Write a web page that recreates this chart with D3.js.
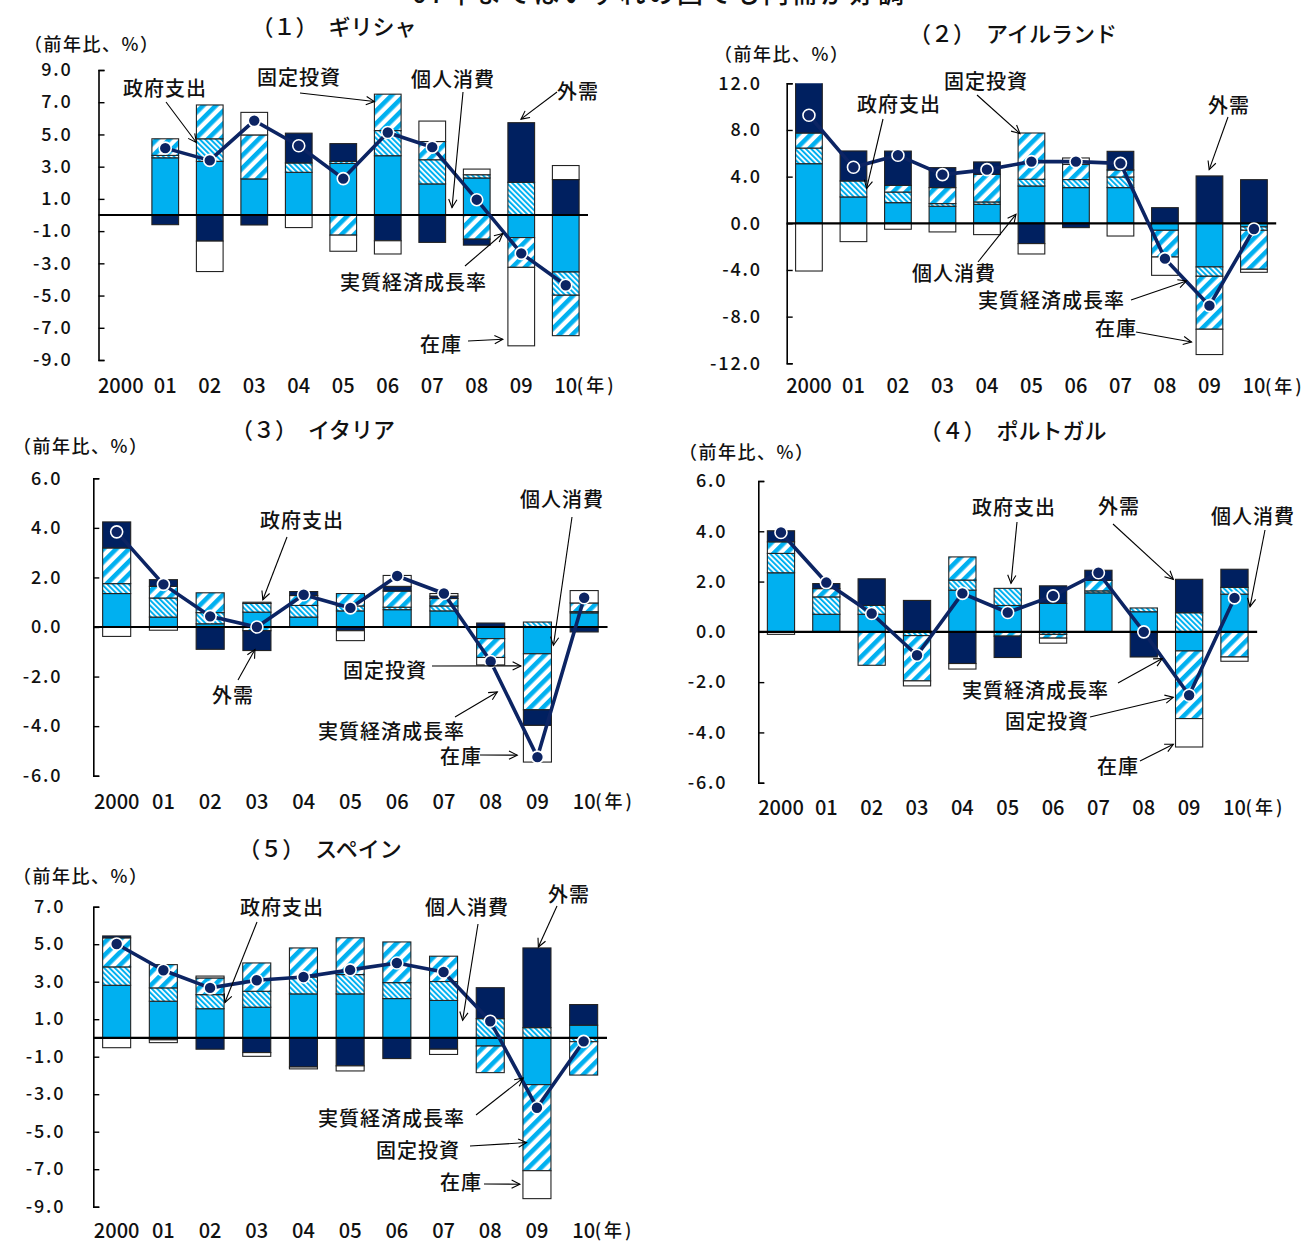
<!DOCTYPE html>
<html>
<head>
<meta charset="utf-8">
<script src="https://cdn.jsdelivr.net/npm/d3@7"></script>
<style>
  body { margin: 0; background: #fff; }
  svg { display: block; font-family: "Noto Sans CJK JP", "Noto Sans", sans-serif; font-weight: 500; }
</style>
</head>
<body>
<svg id="chart" width="1312" height="1243"></svg>
<script>
// 年
const years = ["2000", "01", "02", "03", "04", "05", "06", "07", "08", "09", "10"];
const seriesNames = ["個人消費", "政府支出", "固定投資", "外需", "在庫"];

// (1) ギリシャ
const grcPersonal = [null, 3.55, 3.33, 2.24, 2.65, 3.2, 3.68, 1.93, 2.3, -1.4, -3.54];
const grcGovt     = [null, 0.15, 1.4, 0, 0.58, 0.13, 1.56, 1.5, 0.2, 2.03, -1.44];
const grcInvest   = [null, 1.03, 2.1, 2.73, 0, -1.25, 2.26, 1.13, -1.5, -1.85, -2.51];
const grcExternal = [null, -0.6, -1.62, -0.62, 1.85, 1.1, -1.6, -1.7, -0.37, 3.7, 2.2];
const grcStock    = [null, 0, -1.89, 1.4, -0.78, -1.0, -0.82, 1.27, 0.35, -4.87, 0.87];
const grcGdp      = [null, 4.15, 3.39, 5.86, 4.3, 2.26, 5.12, 4.21, 0.95, -2.38, -4.36];
const grcTicks    = [9, 7, 5, 3, 1, -1, -3, -5, -7, -9];

// (2) アイルランド
const irlPersonal = [5.11, 2.26, 1.77, 1.46, 1.63, 3.2, 3.06, 3.06, -0.6, -3.74, -0.31];
const irlGovt     = [1.34, 1.37, 0.91, 0.23, 0.2, 0.57, 0.69, 0.91, 0, -0.8, -0.29];
const irlInvest   = [1.29, 0, 0.57, 1.37, 2.37, 3.97, 1.3, 0.6, -2.29, -4.54, -3.34];
const irlExternal = [5.6, 2.57, 2.94, 1.71, 1.06, -1.74, -0.37, 1.6, 1.34, 4.06, 3.74];
const irlStock    = [-4.09, -1.57, -0.51, -0.74, -0.97, -0.89, 0.55, -1.09, -1.57, -2.17, -0.26];
const irlGdp      = [9.26, 4.8, 5.83, 4.17, 4.6, 5.29, 5.29, 5.14, -3.03, -7.06, -0.49];
const irlTicks    = [12, 8, 4, 0, -4, -8, -12];

// (3) イタリア
const itaPersonal = [1.35, 0.4, 0.13, 0.6, 0.4, 0.65, 0.7, 0.65, -0.47, -1.08, 0.57];
const itaGovt     = [0.4, 0.77, 0.45, 0.35, 0.47, 0.2, 0.1, 0.2, 0, 0.2, 0.05];
const itaInvest   = [1.44, 0.47, 0.8, -0.15, 0.4, 0.5, 0.65, 0.3, -0.76, -2.26, 0.35];
const itaExternal = [1.05, 0.27, -0.9, -0.8, 0.16, -0.15, 0.19, 0.1, 0.16, -0.63, -0.2];
const itaStock    = [-0.38, -0.13, 0, 0.05, 0, -0.4, 0.44, 0.1, -0.3, -1.48, 0.5];
const itaGdp      = [3.84, 1.72, 0.43, 0.0, 1.3, 0.77, 2.06, 1.35, -1.39, -5.25, 1.18];
const itaTicks    = [6, 4, 2, 0, -2, -4, -6];

// (4) ポルトガル
const prtPersonal = [2.35, 0.7, 0.7, 0.05, 1.66, 1.05, 1.13, 1.55, 0.8, -0.76, 1.5];
const prtGovt     = [0.77, 0.69, 0.35, -0.15, 0.4, 0.68, -0.1, 0.08, 0.15, 0.76, 0.27];
const prtInvest   = [0.46, 0.33, -1.33, -1.8, 0.92, -0.17, -0.15, 0.42, 0, -2.69, -1.0];
const prtExternal = [0.44, 0.2, 1.06, 1.2, -1.26, -0.85, 0.7, 0.4, -1.0, 1.33, 0.72];
const prtStock    = [-0.1, 0, 0, -0.2, -0.22, 0, -0.2, 0, 0, -1.13, -0.17];
const prtGdp      = [3.95, 1.96, 0.73, -0.93, 1.53, 0.77, 1.43, 2.35, 0.0, -2.52, 1.35];
const prtTicks    = [6, 4, 2, 0, -2, -4, -6];

// (5) スペイン
const espPersonal = [2.81, 1.96, 1.56, 1.64, 2.35, 2.35, 2.1, 2.0, -0.43, -2.49, 0.68];
const espGovt     = [0.98, 0.71, 0.75, 0.85, 0.9, 1.03, 0.85, 1.01, 1.03, 0.55, -0.2];
const espInvest   = [1.55, 1.24, 0.89, 1.51, 1.55, 1.96, 2.17, 1.35, -1.42, -4.59, -1.78];
const espExternal = [0.1, -0.1, -0.6, -0.78, -1.55, -1.49, -1.1, -0.6, 1.65, 4.25, 1.1];
const espStock    = [-0.52, -0.15, 0.1, -0.2, -0.1, -0.27, 0, -0.28, 0, -1.49, 0];
const espGdp      = [5.01, 3.61, 2.67, 3.08, 3.25, 3.63, 4.0, 3.52, 0.89, -3.72, -0.18];
const espTicks    = [7, 5, 3, 1, -1, -3, -5, -7, -9];

const lightBlue = "#00b0f0";
const navy = "#002060";
const lineNavy = "#0c2463";

const svg = d3.select("#chart");
const defs = svg.append("defs");

// 固定投資: 太い斜線
const pInvest = defs.append("pattern").attr("id", "pat-invest")
  .attr("patternUnits", "userSpaceOnUse").attr("width", 9).attr("height", 9)
  .attr("patternTransform", "rotate(45)");
pInvest.append("rect").attr("width", 9).attr("height", 9).attr("fill", "#fff");
pInvest.append("rect").attr("width", 4.6).attr("height", 9).attr("fill", lightBlue);

// 政府支出: 細い斜線
const pGovt = defs.append("pattern").attr("id", "pat-govt")
  .attr("patternUnits", "userSpaceOnUse").attr("width", 3.8).attr("height", 3.8)
  .attr("patternTransform", "rotate(-45)");
pGovt.append("rect").attr("width", 3.8).attr("height", 3.8).attr("fill", "#fff");
pGovt.append("rect").attr("width", 2.0).attr("height", 3.8).attr("fill", lightBlue);

defs.append("marker").attr("id", "arrow")
  .attr("markerUnits", "userSpaceOnUse").attr("viewBox", "0 0 12 12")
  .attr("markerWidth", 11).attr("markerHeight", 11).attr("refX", 10).attr("refY", 6)
  .attr("orient", "auto")
  .append("path").attr("d", "M1,1.5 L10,6 L1,10.5")
  .attr("fill", "none").attr("stroke", "#000").attr("stroke-width", 1.2);

const fills = {
  "個人消費": lightBlue,
  "政府支出": "url(#pat-govt)",
  "固定投資": "url(#pat-invest)",
  "外需": navy,
  "在庫": "#fff"
};

// 上部の見出し（切れている）
svg.append("text").attr("x", 412).attr("y", 3)
  .attr("font-size", 26).attr("textLength", 492).attr("fill", "#111")
  .text("07年まではいずれの国でも内需が好調");

const panels = [
  { title: "（１）　ギリシャ", id: "grc",
    series: [grcPersonal, grcGovt, grcInvest, grcExternal, grcStock], gdp: grcGdp, ticks: grcTicks,
    domain: [-9, 9], axisX: 98.5, yTop: 70, yBottom: 360, step: 44.5,
    titleX: 334, titleY: 27, unitX: 24, unitY: 45, tickPad: 26, yearDy: 26,
    notes: [
      { text: "政府支出", tx: 123, ty: 89, sx: 166, sy: 102, yr: "02", fx: 0, v: 4.5 },
      { text: "固定投資", tx: 257, ty: 78, sx: 300, sy: 93, yr: "06", fx: 0, v: 7.04 },
      { text: "個人消費", tx: 411, ty: 80, sx: 463, sy: 92, yr: "07", fx: 1.24, v: 0.46 },
      { text: "外需", tx: 557, ty: 92, sx: 557, sy: 92, yr: "09", fx: 0.49, v: 5.95 },
      { text: "実質経済成長率", tx: 340, ty: 283, sx: 465, sy: 266, yr: "09", fx: -0.19, v: -1.15 },
      { text: "在庫", tx: 420, ty: 345, sx: 468, sy: 341, yr: "09", fx: -0.19, v: -7.71 }
    ] },
  { title: "（２）　アイルランド", id: "irl",
    series: [irlPersonal, irlGovt, irlInvest, irlExternal, irlStock], gdp: irlGdp, ticks: irlTicks,
    domain: [-12, 12], axisX: 786.7, yTop: 83.3, yBottom: 363.3, step: 44.5,
    titleX: 1013, titleY: 34, unitX: 714, unitY: 55, tickPad: 25, yearDy: 23,
    notes: [
      { text: "固定投資", tx: 944, ty: 82, sx: 977, sy: 95, yr: "05", fx: 0.07, v: 7.69 },
      { text: "政府支出", tx: 857, ty: 105, sx: 883, sy: 119, yr: "01", fx: 0.99, v: 2.97 },
      { text: "外需", tx: 1208, ty: 106, sx: 1228, sy: 117, yr: "09", fx: 0.49, v: 4.6 },
      { text: "個人消費", tx: 912, ty: 274, sx: 978, sy: 262, yr: "05", fx: -0.08, v: 0.77 },
      { text: "実質経済成長率", tx: 978, ty: 301, sx: 1131, sy: 300, yr: "09", fx: -0.36, v: -4.94 },
      { text: "在庫", tx: 1095, ty: 329, sx: 1136, sy: 332, yr: "09", fx: -0.17, v: -10.17 }
    ] },
  { title: "（３）　イタリア", id: "ita",
    series: [itaPersonal, itaGovt, itaInvest, itaExternal, itaStock], gdp: itaGdp, ticks: itaTicks,
    domain: [-6, 6], axisX: 93.3, yTop: 478.3, yBottom: 775.7, step: 46.75,
    titleX: 313, titleY: 430, unitX: 13, unitY: 447, tickPad: 31, yearDy: 26,
    notes: [
      { text: "政府支出", tx: 260, ty: 521, sx: 287, sy: 537, yr: "03", fx: 0.71, v: 1.1 },
      { text: "外需", tx: 212, ty: 696, sx: 238, sy: 680, yr: "03", fx: 0.43, v: -0.91 },
      { text: "個人消費", tx: 520, ty: 500, sx: 572, sy: 517, yr: "09", fx: 1.07, v: -0.74 },
      { text: "固定投資", tx: 343, ty: 671, sx: 432, sy: 666, yr: "09", fx: -0.09, v: -1.57 },
      { text: "実質経済成長率", tx: 318, ty: 732, sx: 455, sy: 717, yr: "09", fx: -0.93, v: -2.62 },
      { text: "在庫", tx: 440, ty: 757, sx: 480, sy: 755, yr: "09", fx: -0.22, v: -5.17 }
    ] },
  { title: "（４）　ポルトガル", id: "prt",
    series: [prtPersonal, prtGovt, prtInvest, prtExternal, prtStock], gdp: prtGdp, ticks: prtTicks,
    domain: [-6, 6], axisX: 758.3, yTop: 481, yBottom: 782.7, step: 45.35,
    titleX: 1013, titleY: 431, unitX: 679, unitY: 453, tickPad: 31, yearDy: 25,
    notes: [
      { text: "政府支出", tx: 972, ty: 508, sx: 1017, sy: 522, yr: "05", fx: 0.62, v: 1.93 },
      { text: "外需", tx: 1098, ty: 507, sx: 1113, sy: 524, yr: "09", fx: -0.08, v: 2.09 },
      { text: "個人消費", tx: 1211, ty: 517, sx: 1265, sy: 530, yr: "10", fx: 1.07, v: 1.0 },
      { text: "実質経済成長率", tx: 962, ty: 691, sx: 1118, sy: 683, yr: "08", fx: 1.18, v: -1.06 },
      { text: "固定投資", tx: 1005, ty: 722, sx: 1090, sy: 717, yr: "09", fx: -0.08, v: -2.6 },
      { text: "在庫", tx: 1097, ty: 767, sx: 1140, sy: 761, yr: "09", fx: -0.08, v: -4.47 }
    ] },
  { title: "（５）　スペイン", id: "esp",
    series: [espPersonal, espGovt, espInvest, espExternal, espStock], gdp: espGdp, ticks: espTicks,
    domain: [-9, 7], axisX: 93.3, yTop: 906.7, yBottom: 1206.7, step: 46.7,
    titleX: 320, titleY: 849, unitX: 13, unitY: 877, tickPad: 28, yearDy: 24,
    notes: [
      { text: "政府支出", tx: 240, ty: 908, sx: 257, sy: 922, yr: "02", fx: 1.03, v: 1.89 },
      { text: "個人消費", tx: 425, ty: 908, sx: 478, sy: 924, yr: "07", fx: 1.18, v: 0.94 },
      { text: "外需", tx: 548, ty: 895, sx: 557, sy: 906, yr: "09", fx: 0.55, v: 4.85 },
      { text: "実質経済成長率", tx: 318, ty: 1119, sx: 476, sy: 1115, yr: "09", fx: 0.01, v: -2.13 },
      { text: "固定投資", tx: 376, ty: 1151, sx: 470, sy: 1146, yr: "09", fx: 0.13, v: -5.58 },
      { text: "在庫", tx: 440, ty: 1183, sx: 484, sy: 1184, yr: "09", fx: -0.11, v: -7.8 }
    ] }
];

panels.forEach(p => {
  const g = svg.append("g");
  const xRight = p.axisX + years.length * p.step;

  const x = d3.scaleBand().domain(years).range([p.axisX, xRight])
    .paddingInner(0.4).paddingOuter(0.2);
  const y = d3.scaleLinear().domain(p.domain).range([p.yBottom, p.yTop]);
  const bw = x.bandwidth();

  // 表形式に並べ替え
  const rows = years.map((yr, i) => {
    const r = { year: yr };
    seriesNames.forEach((k, j) => { r[k] = p.series[j][i] ?? 0; });
    return r;
  });
  const stacked = d3.stack().keys(seriesNames).offset(d3.stackOffsetDiverging)(rows);

  defs.append("clipPath").attr("id", "clip-" + p.id)
    .append("rect").attr("x", p.axisX).attr("y", p.yTop)
    .attr("width", xRight - p.axisX).attr("height", p.yBottom - p.yTop);

  const barG = g.append("g").attr("clip-path", `url(#clip-${p.id})`);
  stacked.forEach(layer => {
    barG.append("g").selectAll("rect")
      .data(layer.filter(d => Math.abs(d[1] - d[0]) > 0.001))
      .join("rect")
      .attr("x", d => x(d.data.year))
      .attr("y", d => y(Math.max(d[0], d[1])))
      .attr("width", bw)
      .attr("height", d => Math.abs(y(d[0]) - y(d[1])))
      .attr("fill", fills[layer.key])
      .attr("stroke", "#222")
      .attr("stroke-width", 1.1);
  });

  // 縦軸
  const yAxis = d3.axisLeft(y).tickValues(p.ticks)
    .tickSizeInner(-6).tickSizeOuter(-6).tickPadding(p.tickPad)
    .tickFormat(d => d.toFixed(1));
  const ya = g.append("g").attr("transform", `translate(${p.axisX},0)`).call(yAxis);
  ya.select(".domain").attr("stroke-width", 1.6);
  ya.selectAll(".tick line").attr("stroke-width", 1.4);
  ya.selectAll(".tick text").attr("font-size", 18).attr("letter-spacing", 1.8)
    .attr("fill", "#111").attr("font-family", "'Noto Sans CJK JP', sans-serif");

  // ゼロ線
  g.append("line").attr("x1", p.axisX).attr("x2", xRight)
    .attr("y1", y(0)).attr("y2", y(0))
    .attr("stroke", "#000").attr("stroke-width", 2.2);

  // 年ラベル
  const xa = g.append("g").attr("transform", `translate(0,${p.yBottom + p.yearDy})`)
    .call(d3.axisBottom(x).tickSize(0).tickPadding(0));
  xa.select(".domain").remove();
  xa.selectAll(".tick text").attr("font-size", 20).attr("fill", "#111")
    .attr("dy", "0.35em").attr("font-family", "'Noto Sans CJK JP', sans-serif");
  g.append("text")
    .attr("x", x("10") + bw / 2 + 11).attr("y", p.yBottom + p.yearDy)
    .attr("dy", "0.35em").attr("font-size", 18).attr("letter-spacing", 3).attr("fill", "#111")
    .text("(年)");

  // 実質経済成長率
  const pts = years.map((yr, i) => ({ yr, v: p.gdp[i] })).filter(d => d.v != null);
  g.append("path").datum(pts)
    .attr("fill", "none").attr("stroke", lineNavy).attr("stroke-width", 3.6)
    .attr("stroke-linejoin", "round")
    .attr("d", d3.line().x(d => x(d.yr) + bw / 2).y(d => y(d.v)));
  g.append("g").selectAll("circle").data(pts).join("circle")
    .attr("cx", d => x(d.yr) + bw / 2).attr("cy", d => y(d.v)).attr("r", 6)
    .attr("fill", lineNavy).attr("stroke", "#fff").attr("stroke-width", 1.6);

  // タイトル・単位
  g.append("text").attr("x", p.titleX).attr("y", p.titleY).attr("dy", "0.35em")
    .attr("text-anchor", "middle").attr("font-size", 22).attr("fill", "#111")
    .text(p.title);
  g.append("text").attr("x", p.unitX).attr("y", p.unitY).attr("dy", "0.35em")
    .attr("font-size", 18).attr("letter-spacing", 1.5).attr("fill", "#111")
    .text("（前年比、%）");

  // 注記と矢印
  p.notes.forEach(n => {
    const ex = x(n.yr) + bw * n.fx;
    const ey = y(n.v);
    g.append("line").attr("x1", n.sx).attr("y1", n.sy).attr("x2", ex).attr("y2", ey)
      .attr("stroke", "#000").attr("stroke-width", 1.1)
      .attr("marker-end", "url(#arrow)");
    g.append("text").attr("x", n.tx).attr("y", n.ty).attr("dy", "0.35em")
      .attr("font-size", 20).attr("letter-spacing", 1).attr("fill", "#111")
      .text(n.text);
  });
});
</script>
</body>
</html>
